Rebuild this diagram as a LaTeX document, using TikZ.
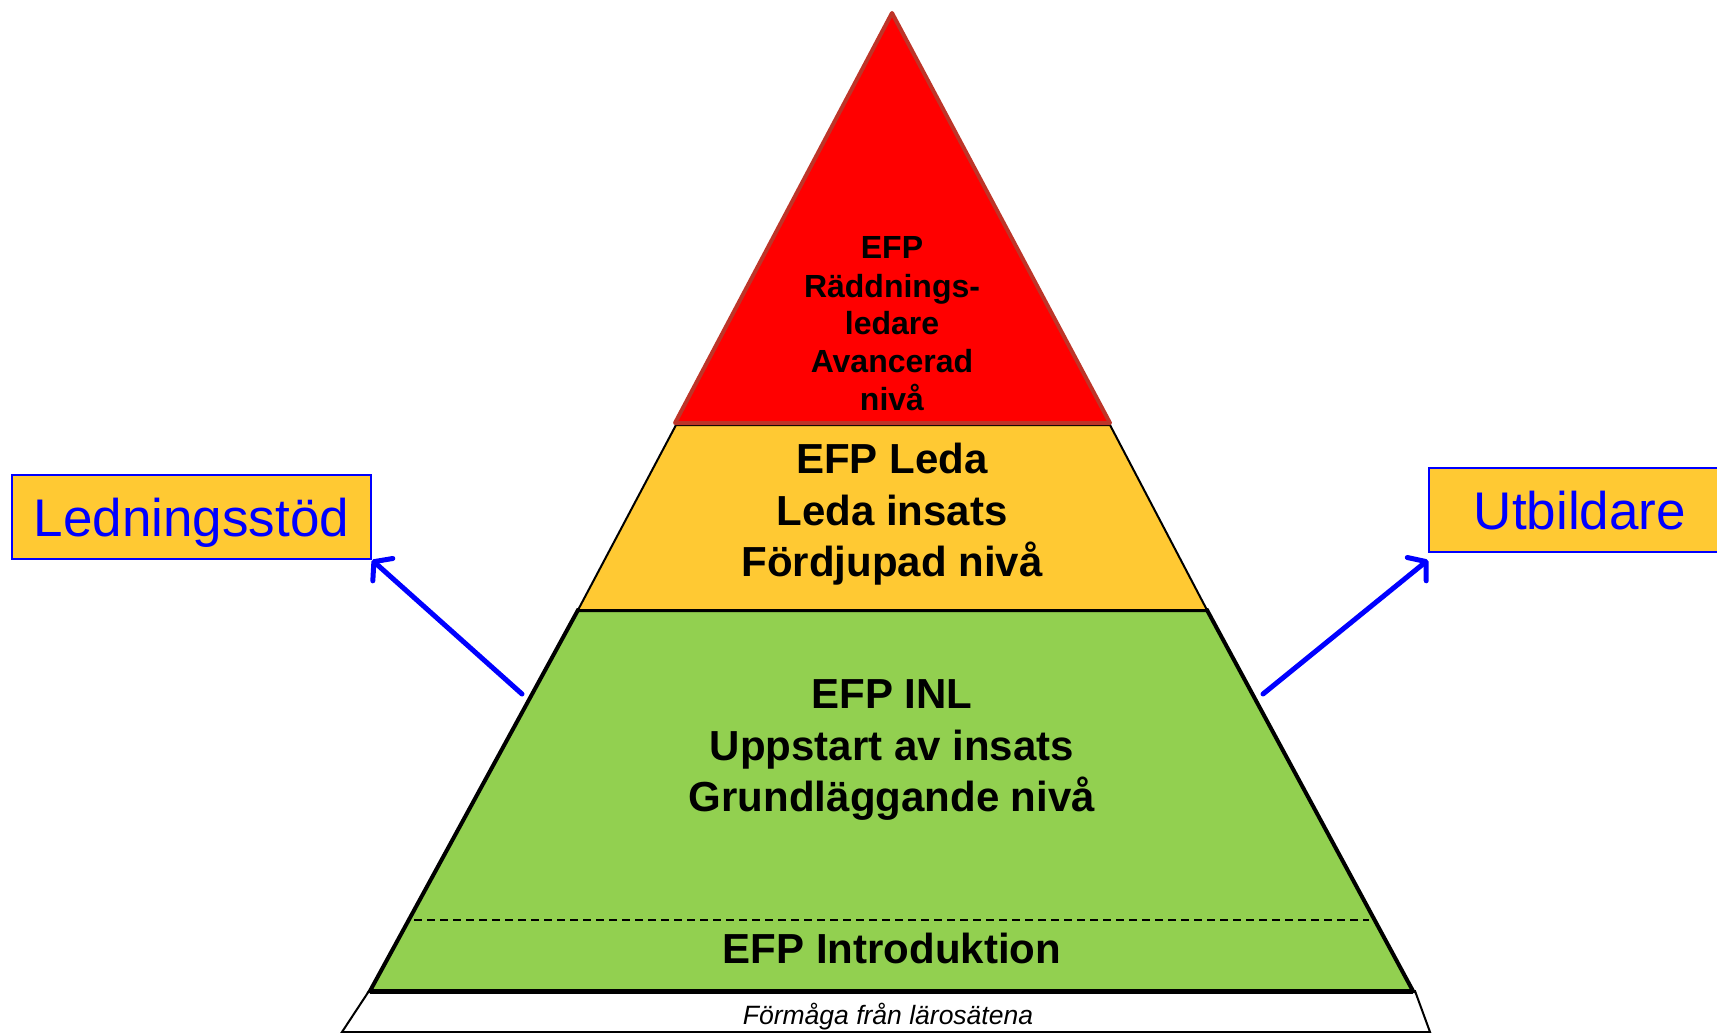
\documentclass[tikz,border=0pt]{standalone}
\usepackage{fontspec}
\setmainfont{Liberation Sans}
\usetikzlibrary{arrows.meta}
\definecolor{pyrred}{RGB}{255,0,0}
\definecolor{pyrredline}{RGB}{190,52,40}
\definecolor{pyryellow}{RGB}{255,201,51}
\definecolor{pyrgreen}{RGB}{146,208,80}
\definecolor{pyrblue}{RGB}{0,0,255}
\tikzset{
  redtxt/.style={anchor=base, inner sep=0pt, font=\bfseries\fontsize{32}{38}\selectfont},
  bigtxt/.style={anchor=base, inner sep=0pt, font=\bfseries\fontsize{42}{50}\selectfont},
  sidebox/.style={draw=pyrblue, line width=2pt, fill=pyryellow, text=pyrblue,
    font=\fontsize{53}{60}\selectfont, inner sep=0pt, text height=38pt, text depth=0pt,
    minimum height=84pt},
  sidearrow/.style={draw=pyrblue, line width=5pt, line cap=round,
    -{Straight Barb[length=12pt, width=30pt, round]}},
}
\begin{document}
\begin{tikzpicture}[x=1pt, y=-1pt]
\useasboundingbox (0,0) rectangle (1717,1033);
\clip (0,0) rectangle (1717,1033);
\fill[white] (0,0) rectangle (1717,1033);
% base white trapezoid
\draw[black, line width=2pt, line join=miter, fill=white]
  (369,991) -- (1415,991) -- (1430,1032) -- (342,1032) -- cycle;
% green layer
\draw[black, line width=4pt, fill=pyrgreen, line join=miter]
  (578,610) -- (1207,610) -- (1413,991) -- (370,991) -- cycle;
\draw[black, line width=5pt] (370,991) -- (1413,991);
% yellow layer
\draw[black, line width=2pt, fill=pyryellow, line join=miter]
  (676,425) -- (1110,425) -- (1207,610) -- (578,610) -- cycle;
% red top
\draw[pyrredline, line width=4pt, fill=pyrred, line join=round]
  (892,13) -- (1110,423) -- (675,423) -- cycle;
% dashed separator
\draw[black, line width=2.2pt, dash pattern=on 8pt off 5pt] (414,920) -- (1369,920);
% texts
\node[redtxt] (r1) at (892,258) {EFP};
\node[redtxt] (r2) at (892,297) {Räddnings-};
\node[redtxt] (r3) at (892,334) {ledare};
\node[redtxt] (r4) at (892,372) {Avancerad};
\node[redtxt] (r5) at (892,410) {nivå};
\node[bigtxt] (y1) at (892,473) {EFP Leda};
\node[bigtxt] (y2) at (892,525) {Leda insats};
\node[bigtxt] (y3) at (892,576) {Fördjupad nivå};
\node[bigtxt] (g1) at (892,708) {EFP INL};
\node[bigtxt] (g2) at (892,760) {Uppstart av insats};
\node[bigtxt] (g3) at (892,811) {Grundläggande nivå};
\node[bigtxt] (g4) at (892,963) {EFP Introduktion};
\node[anchor=base, inner sep=0pt, font=\itshape\fontsize{26.5}{30}\selectfont] (base) at (888,1024) {Förmåga från lärosätena};
% side boxes
\node[sidebox, minimum width=359pt] (led) at (191.5,517) {Ledningsstöd};
\node[sidebox, minimum width=302pt] (utb) at (1580,510) {Utbildare};
% arrows
\coordinate (lstart) at (522,694);
\coordinate (rstart) at (1263,694);
\coordinate (rtip) at (1428,560);
\draw[sidearrow] (lstart) -- (led.south east);
\draw[sidearrow] (rstart) -- (rtip);
\end{tikzpicture}
\end{document}
